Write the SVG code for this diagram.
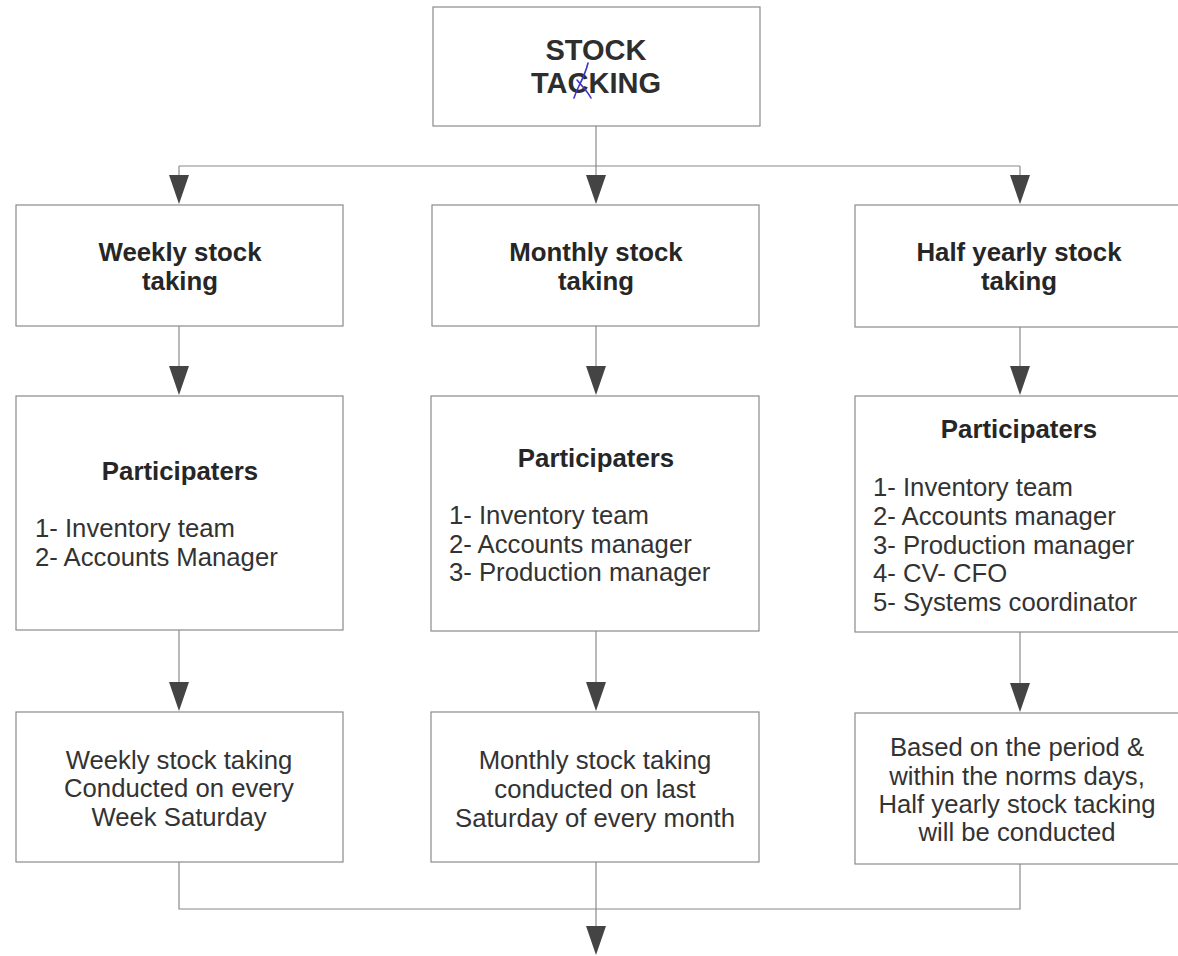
<svg xmlns="http://www.w3.org/2000/svg" width="1178" height="956" viewBox="0 0 1178 956">
<style>
.box{fill:#fff;stroke:#8a8a8a;stroke-width:1.2}
.ln{fill:none;stroke:#8a8a8a;stroke-width:1.2}
.hd{font-family:"Liberation Sans",Arial,sans-serif;font-weight:bold;font-size:25.8px;fill:#262626;text-anchor:middle}
.tt{font-family:"Liberation Sans",Arial,sans-serif;font-weight:bold;font-size:29px;fill:#2e2e2e;text-anchor:middle}
.bd{font-family:"Liberation Sans",Arial,sans-serif;font-size:25.7px;fill:#333}
.bc{font-family:"Liberation Sans",Arial,sans-serif;font-size:25.7px;fill:#333;text-anchor:middle}
</style>
<rect width="1178" height="956" fill="#fff"/>
<g id="connectors">
<path class="ln" d="M596,126 V166"/>
<path class="ln" d="M179,166 H1020"/>
<path class="ln" d="M179,166 V175"/>
<path d="M169,175 L189,175 L179,204 Z" fill="#444"/>
<path class="ln" d="M596,166 V175"/>
<path d="M586,175 L606,175 L596,204 Z" fill="#444"/>
<path class="ln" d="M1020,166 V175"/>
<path d="M1010,175 L1030,175 L1020,204 Z" fill="#444"/>
<path class="ln" d="M179,326 V366"/>
<path d="M169,366 L189,366 L179,395 Z" fill="#444"/>
<path class="ln" d="M596,326 V366"/>
<path d="M586,366 L606,366 L596,395 Z" fill="#444"/>
<path class="ln" d="M1020,327 V366"/>
<path d="M1010,366 L1030,366 L1020,395 Z" fill="#444"/>
<path class="ln" d="M179,630 V682"/>
<path d="M169,682 L189,682 L179,711 Z" fill="#444"/>
<path class="ln" d="M596,631 V682"/>
<path d="M586,682 L606,682 L596,711 Z" fill="#444"/>
<path class="ln" d="M1020,632 V683"/>
<path d="M1010,683 L1030,683 L1020,712 Z" fill="#444"/>
<path class="ln" d="M179,862 V909 H1020 V864"/>
<path class="ln" d="M596,862 V926"/>
<path d="M586,926 L606,926 L596,955 Z" fill="#444"/>
</g>
<g id="stock-tacking">
<rect class="box" x="433" y="7" width="327" height="119"/>
<text class="tt" x="596" y="60">STOCK</text>
<text class="tt" x="596" y="93">TACKING</text>
<path d="M588,63 C586,72 582,80 578,88 C576,92 575,95 574,98 M577,80 C582,86 588,92 591,98" fill="none" stroke="#3b35c8" stroke-width="1.6" stroke-linecap="round"/>
</g>
<g id="weekly">
<rect class="box" x="16" y="205" width="327" height="121"/>
<text class="hd" x="180" y="261">Weekly stock</text>
<text class="hd" x="180" y="290">taking</text>
</g>
<g id="monthly">
<rect class="box" x="432" y="205" width="327" height="121"/>
<text class="hd" x="596" y="261">Monthly stock</text>
<text class="hd" x="596" y="290">taking</text>
</g>
<g id="half-yearly">
<rect class="box" x="855" y="205" width="340" height="122"/>
<text class="hd" x="1019" y="261">Half yearly stock</text>
<text class="hd" x="1019" y="290">taking</text>
</g>
<g id="weekly-participaters">
<rect class="box" x="16" y="396" width="327" height="234"/>
<text class="hd" x="180" y="480">Participaters</text>
<text class="bd" x="35" y="537">1- Inventory team</text>
<text class="bd" x="35" y="566">2- Accounts Manager</text>
</g>
<g id="monthly-participaters">
<rect class="box" x="431" y="396" width="328" height="235"/>
<text class="hd" x="596" y="467">Participaters</text>
<text class="bd" x="449" y="524">1- Inventory team</text>
<text class="bd" x="449" y="553">2- Accounts manager</text>
<text class="bd" x="449" y="581">3- Production manager</text>
</g>
<g id="half-yearly-participaters">
<rect class="box" x="855" y="396" width="340" height="236"/>
<text class="hd" x="1019" y="438">Participaters</text>
<text class="bd" x="873" y="496">1- Inventory team</text>
<text class="bd" x="873" y="525">2- Accounts manager</text>
<text class="bd" x="873" y="554">3- Production manager</text>
<text class="bd" x="873" y="582">4- CV- CFO</text>
<text class="bd" x="873" y="611">5- Systems coordinator</text>
</g>
<g id="weekly-schedule">
<rect class="box" x="16" y="712" width="327" height="150"/>
<text class="bc" x="179" y="769">Weekly stock taking</text>
<text class="bc" x="179" y="797">Conducted on every</text>
<text class="bc" x="179" y="826">Week Saturday</text>
</g>
<g id="monthly-schedule">
<rect class="box" x="431" y="712" width="328" height="150"/>
<text class="bc" x="595" y="769">Monthly stock taking</text>
<text class="bc" x="595" y="798">conducted on last</text>
<text class="bc" x="595" y="827">Saturday of every month</text>
</g>
<g id="half-yearly-schedule">
<rect class="box" x="855" y="713" width="340" height="151"/>
<text class="bc" x="1017" y="756">Based on the period &amp;</text>
<text class="bc" x="1017" y="785">within the norms days,</text>
<text class="bc" x="1017" y="813">Half yearly stock tacking</text>
<text class="bc" x="1017" y="841">will be conducted</text>
</g>
</svg>
